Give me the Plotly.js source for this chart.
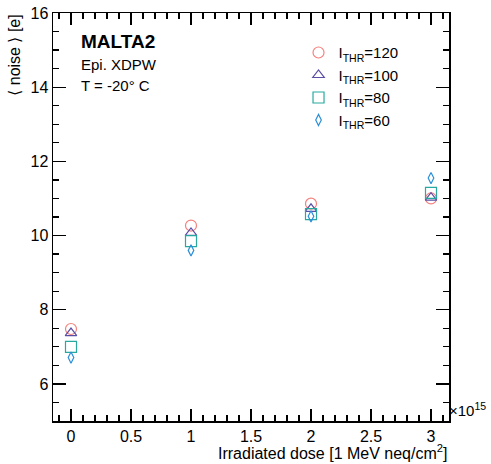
<!DOCTYPE html>
<html>
<head>
<meta charset="utf-8">
<script src="https://cdn.plot.ly/plotly-3.0.1.min.js"></script>
<style>
  html, body { margin: 0; padding: 0; background: #fff; }
  #chart { width: 491px; height: 464px; }
</style>
</head>
<body>
<div id="chart"></div>
<script>
// Irradiation dose points (units of 1e15 1 MeV neq/cm^2)
const dose = [0, 1, 2, 3];

// Mean noise [e] for each threshold setting
const noiseThr120 = [7.48, 10.27, 10.86, 11.00];
const noiseThr100 = [7.37, 10.07, 10.72, 11.02];
const noiseThr80  = [7.00, 9.85, 10.58, 11.15];
const noiseThr60  = [6.71, 9.60, 10.52, 11.55];

const seriesNames = ['I<sub>THR</sub>=120', 'I<sub>THR</sub>=100', 'I<sub>THR</sub>=80', 'I<sub>THR</sub>=60'];
const seriesData = [noiseThr120, noiseThr100, noiseThr80, noiseThr60];
const seriesColors = ['#f4827e', '#5a4ea6', '#27a9a0', '#2b8fd9'];
const seriesSymbols = ['circle-open', 'triangle-up-open', 'square-open', 'diamond-tall-open'];
const seriesSizes = [11, 10, 11, 8];

const scale = 1e15;
const font = 'Liberation Sans, Arial, Helvetica, sans-serif';

const traces = seriesData.map((vals, i) => ({
  type: 'scatter',
  mode: 'markers',
  name: seriesNames[i],
  x: dose.map(d => d * scale),
  y: vals,
  marker: {
    symbol: seriesSymbols[i],
    size: seriesSizes[i],
    color: seriesColors[i],
    line: { color: seriesColors[i], width: 1.2 }
  },
  cliponaxis: false
}));

const axisCommon = {
  showgrid: false,
  zeroline: false,
  showline: true,
  linecolor: '#000',
  linewidth: 1.5,
  mirror: 'ticks',
  ticks: 'inside',
  tickcolor: '#000',
  tickwidth: 1.2,
  tickfont: { family: font, size: 16, color: '#000' }
};

const layout = {
  width: 491,
  height: 464,
  margin: { l: 53, r: 42, t: 13, b: 43 },
  paper_bgcolor: '#fff',
  plot_bgcolor: '#fff',
  showlegend: true,
  legend: {
    x: 0.62, y: 0.943, xanchor: 'left', yanchor: 'top',
    bgcolor: 'rgba(0,0,0,0)',
    font: { family: font, size: 15, color: '#000' },
    tracegroupgap: 0
  },
  xaxis: Object.assign({}, axisCommon, {
    range: [-0.15 * scale, 3.15 * scale],
    tickmode: 'array',
    tickvals: [0, 0.5, 1, 1.5, 2, 2.5, 3].map(v => v * scale),
    ticktext: ['0', '0.5', '1', '1.5', '2', '2.5', '3'],
    ticklen: 12,
    minor: { dtick: 0.1 * scale, tick0: 0, ticks: 'inside', ticklen: 6, tickcolor: '#000', tickwidth: 1.2 }
  }),
  yaxis: Object.assign({}, axisCommon, {
    range: [5, 16],
    tickmode: 'array',
    tickvals: [6, 8, 10, 12, 14, 16],
    ticklen: 13,
    minor: { dtick: 0.5, tick0: 5, ticks: 'inside', ticklen: 6, tickcolor: '#000', tickwidth: 1.2 }
  }),
  annotations: [
    { xref: 'paper', yref: 'paper', x: 1, y: -0.076, xanchor: 'right', yanchor: 'middle',
      text: 'Irradiated dose [1 MeV neq/cm<sup>2</sup>]', showarrow: false,
      font: { family: font, size: 16, color: '#000' } },
    { xref: 'paper', yref: 'paper', x: -0.098, y: 1.0, xanchor: 'center', yanchor: 'top',
      text: '⟨ noise ⟩ [e]', textangle: -90, showarrow: false,
      font: { family: font, size: 16, color: '#000' } },
    { xref: 'paper', yref: 'paper', x: 0.995, y: 0.0, xanchor: 'left', yanchor: 'bottom',
      text: '×10<sup>15</sup>', showarrow: false,
      font: { family: font, size: 15, color: '#000' } },
    { xref: 'paper', yref: 'paper', x: 0.065, y: 0.93, xanchor: 'left', yanchor: 'middle',
      text: '<b>MALTA2</b>', showarrow: false,
      font: { family: font, size: 19, color: '#000' } },
    { xref: 'paper', yref: 'paper', x: 0.065, y: 0.873, xanchor: 'left', yanchor: 'middle',
      text: 'Epi. XDPW', showarrow: false,
      font: { family: font, size: 15, color: '#000' } },
    { xref: 'paper', yref: 'paper', x: 0.065, y: 0.822, xanchor: 'left', yanchor: 'middle',
      text: 'T = -20° C', showarrow: false,
      font: { family: font, size: 15, color: '#000' } }
  ]
};

Plotly.newPlot('chart', traces, layout, { displayModeBar: false, staticPlot: true });
</script>
</body>
</html>
